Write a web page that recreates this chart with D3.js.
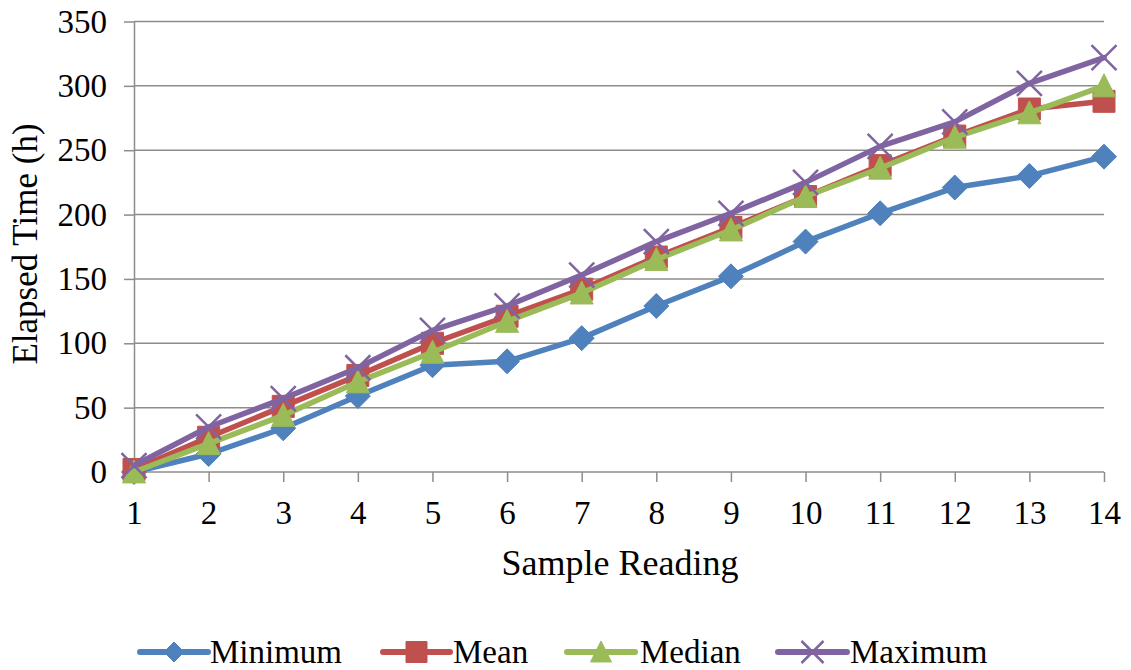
<!DOCTYPE html>
<html>
<head>
<meta charset="utf-8">
<script src="https://cdn.jsdelivr.net/npm/d3@7"></script>
<style>
  html, body { margin: 0; padding: 0; background: #fff; }
  svg { display: block; }
  svg text { font-family: "Liberation Serif", "Times New Roman", Tinos, "DejaVu Serif", serif !important; }
</style>
</head>
<body>
<svg id="chart" width="1131" height="670"></svg>
<script>
// Sample readings and elapsed time (hours) per statistic
const categories = [1, 2, 3, 4, 5, 6, 7, 8, 9, 10, 11, 12, 13, 14];
const minimumValues = [0, 14, 34, 59, 83, 86, 104, 129, 152, 179, 201, 221, 230, 245];
const meanValues    = [2, 27, 51, 75, 100, 121, 142, 167, 190, 214, 238, 261, 282, 288];
const medianValues  = [0, 22, 44, 70, 93, 117, 139, 165, 188, 214, 236, 260, 279, 300];
const maximumValues = [5, 35, 57, 81, 110, 129, 153, 179, 201, 225, 253, 272, 302, 322];
const yTicks = [0, 50, 100, 150, 200, 250, 300, 350];
const seriesNames = ["Minimum", "Mean", "Median", "Maximum"];

const series = [
  { name: seriesNames[0], values: minimumValues, color: "#4F81BD", marker: "diamond" },
  { name: seriesNames[1], values: meanValues,    color: "#C0504D", marker: "square" },
  { name: seriesNames[2], values: medianValues,  color: "#9BBB59", marker: "triangle" },
  { name: seriesNames[3], values: maximumValues, color: "#8064A2", marker: "x" }
];

const svg = d3.select("#chart");
const plotLeft = 134, plotRight = 1104, plotTop = 21.5, plotBottom = 472;
const gridColor = "#8c8c8c";
const serif = "'Liberation Serif', 'Times New Roman', Tinos, 'DejaVu Serif', serif";

const x = d3.scalePoint().domain(categories).range([plotLeft, plotRight]);
const y = d3.scaleLinear().domain([0, 350]).range([plotBottom, plotTop]);

// horizontal gridlines
svg.append("g").selectAll("line").data(yTicks.filter(d => d > 0)).join("line")
  .attr("x1", plotLeft).attr("x2", plotRight)
  .attr("y1", d => y(d)).attr("y2", d => y(d))
  .attr("stroke", gridColor).attr("stroke-width", 1.5);

// y axis
const yAxis = svg.append("g").attr("transform", `translate(${plotLeft},0)`)
  .call(d3.axisLeft(y).tickValues(yTicks).tickSize(10).tickSizeOuter(0).tickPadding(17))
  .attr("font-family", serif);
yAxis.select(".domain").attr("stroke", gridColor).attr("stroke-width", 1.5);
yAxis.selectAll(".tick line").attr("stroke", gridColor).attr("stroke-width", 1.5);
yAxis.selectAll(".tick text").attr("font-size", 33).attr("fill", "#000");

// x axis
const xAxis = svg.append("g").attr("transform", `translate(0,${plotBottom})`)
  .call(d3.axisBottom(x).tickSize(10).tickSizeOuter(0))
  .attr("font-family", serif);
xAxis.select(".domain").attr("stroke", gridColor).attr("stroke-width", 1.5)
  .attr("d", `M${plotLeft},0H${plotRight}`);
xAxis.selectAll(".tick line").attr("stroke", gridColor).attr("stroke-width", 1.5);
xAxis.selectAll(".tick text").attr("font-size", 33).attr("fill", "#000")
  .attr("dy", null).attr("y", 52);

// axis titles
svg.append("text")
  .attr("transform", `translate(37,244) rotate(-90)`)
  .attr("text-anchor", "middle").attr("font-size", 35).attr("fill", "#000")
  .text("Elapsed Time (h)");
svg.append("text")
  .attr("x", 620).attr("y", 575)
  .attr("text-anchor", "middle").attr("font-size", 36).attr("fill", "#000")
  .text("Sample Reading");

// marker shapes
function markerPath(type, s) {
  if (type === "diamond") return `M0,${-s}L${s},0L0,${s}L${-s},0Z`;
  if (type === "square") return `M${-s},${-s}H${s}V${s}H${-s}Z`;
  if (type === "triangle") return `M0,${-s * 1.05}L${s},${s * 0.95}L${-s},${s * 0.95}Z`;
  return `M${-s},${-s}L${s},${s}M${-s},${s}L${s},${-s}`;
}
function drawMarker(g, type, color, cx, cy, s) {
  const p = g.append("path")
    .attr("transform", `translate(${cx},${cy})`)
    .attr("d", markerPath(type, s));
  if (type === "x") p.attr("fill", "none").attr("stroke", color).attr("stroke-width", 2.5);
  else p.attr("fill", color).attr("stroke", color).attr("stroke-width", 1);
}
const markerSize = { diamond: 12.5, square: 11, triangle: 11.5, x: 12.5 };

const line = d3.line().x((d, i) => x(categories[i])).y(d => y(d));

series.forEach(s => {
  const g = svg.append("g");
  g.append("path").datum(s.values)
    .attr("d", line).attr("fill", "none")
    .attr("stroke", s.color).attr("stroke-width", 5.5)
    .attr("stroke-linejoin", "round").attr("stroke-linecap", "round");
  s.values.forEach((v, i) => drawMarker(g, s.marker, s.color, x(categories[i]), y(v), markerSize[s.marker]));
});

// legend
const legendItems = [
  { x0: 140, x1: 208, tx: 210 },
  { x0: 383, x1: 450, tx: 453 },
  { x0: 567, x1: 635, tx: 640 },
  { x0: 778, x1: 847, tx: 850 }
];
const legendY = 652;
series.forEach((s, i) => {
  const it = legendItems[i];
  const g = svg.append("g");
  g.append("line").attr("x1", it.x0).attr("x2", it.x1)
    .attr("y1", legendY).attr("y2", legendY)
    .attr("stroke", s.color).attr("stroke-width", 6).attr("stroke-linecap", "round");
  const ls = { diamond: 10, square: 10.5, triangle: 10.5, x: 11 }[s.marker];
  drawMarker(g, s.marker, s.color, (it.x0 + it.x1) / 2, legendY, ls);
  g.append("text").attr("x", it.tx).attr("y", 663)
    .attr("font-size", 33).attr("fill", "#000").text(s.name);
});
</script>
</body>
</html>
